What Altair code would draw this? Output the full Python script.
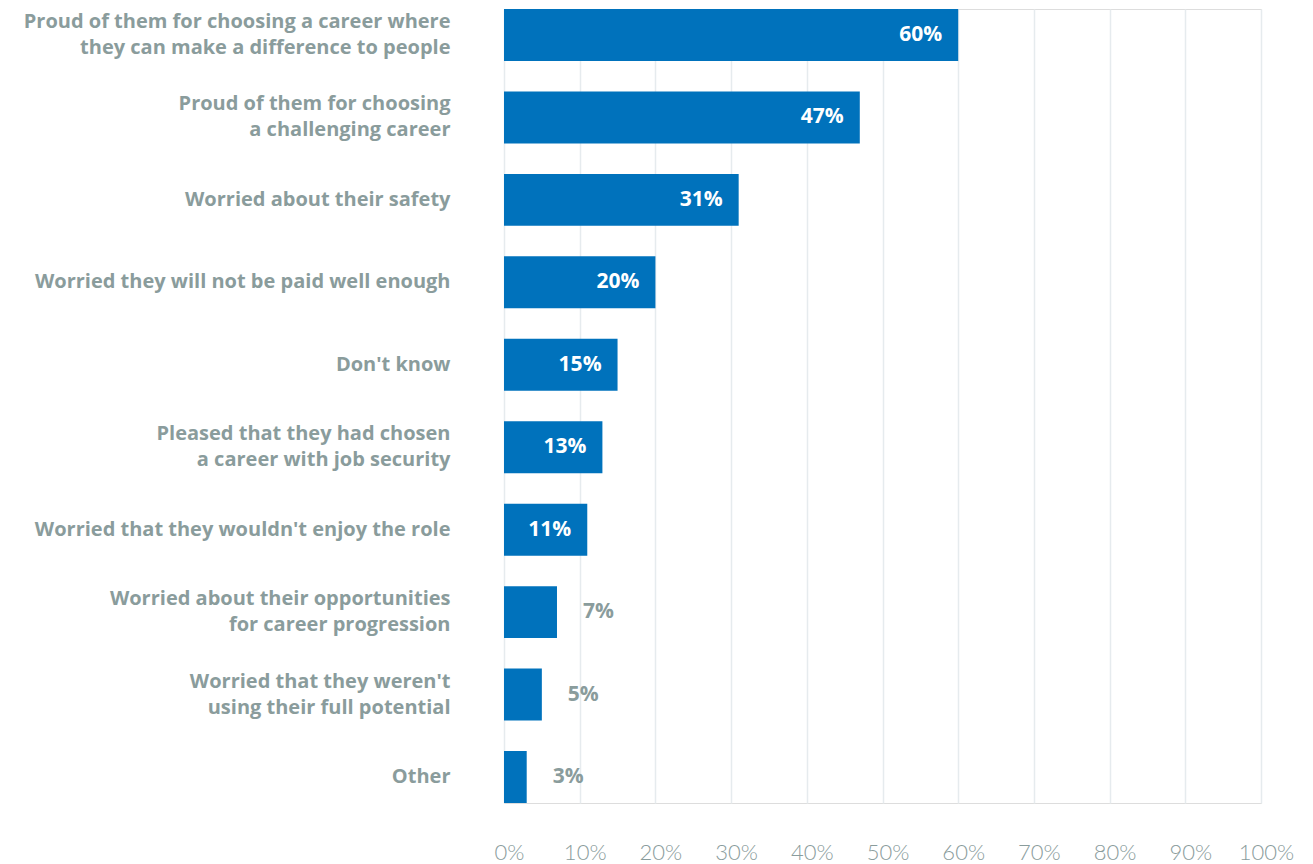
import altair as alt
import pandas as pd

categories = [
    "Proud of them for choosing a career where|they can make a difference to people",
    "Proud of them for choosing|a challenging career",
    "Worried about their safety",
    "Worried they will not be paid well enough",
    "Don't know",
    "Pleased that they had chosen|a career with job security",
    "Worried that they wouldn't enjoy the role",
    "Worried about their opportunities|for career progression",
    "Worried that they weren't|using their full potential",
    "Other",
]
values = [0.60, 0.47, 0.31, 0.20, 0.15, 0.13, 0.11, 0.07, 0.05, 0.03]
value_labels = ["60%", "47%", "31%", "20%", "15%", "13%", "11%", "7%", "5%", "3%"]

df = pd.DataFrame({"cat": categories, "value": values, "label": value_labels})

BLUE = "#0072bc"
GRAY = "#8a9c9c"
FONT = "Open Sans"

y = alt.Y(
    "cat:N",
    sort=categories,
    scale=alt.Scale(paddingInner=0.37, paddingOuter=0.0),
    axis=alt.Axis(
        title=None,
        labelExpr="split(datum.label, '|')",
        labelFontSize=20,
        labelFont=FONT,
        labelFontWeight="bold",
        labelColor=GRAY,
        labelPadding=54,
        labelLineHeight=26,
        labelLimit=600,
        labelOffset={"condition": {"test": "indexof(datum.value, '|') >= 0", "value": -13}, "value": 0},
        ticks=False,
        domain=False,
        grid=False,
    ),
)

x = alt.X(
    "value:Q",
    scale=alt.Scale(domain=[0, 1], nice=False),
    axis=alt.Axis(
        title=None,
        format=".0%",
        values=[i / 10 for i in range(11)],
        labelFontSize=22,
        labelFont="Lato",
        labelFontWeight=300,
        labelColor=GRAY,
        labelPadding=39,
        labelFlush=False,
        labelOffset=5,
        ticks=False,
        domain=False,
        grid=True,
        gridColor="#e6ebee",
        gridWidth=1.5,
    ),
)

base = alt.Chart(df)

bars = base.mark_bar(color=BLUE).encode(x=x, y=y)

inside = base.transform_filter("datum.value >= 0.1").mark_text(
    align="right", baseline="middle", dx=-16, font=FONT, fontWeight="bold",
    fontSize=21, color="white"
).encode(x="value:Q", y=alt.Y("cat:N", sort=categories), text="label:N")

outside = base.transform_filter("datum.value < 0.1").mark_text(
    align="left", baseline="middle", dx=26, font=FONT, fontWeight="bold",
    fontSize=21, color=GRAY
).encode(x="value:Q", y=alt.Y("cat:N", sort=categories), text="label:N")

chart = (
    alt.layer(bars, inside, outside)
    .properties(
        width=757,
        height=794,
        autosize=alt.AutoSizeParams(type="none"),
        padding={"left": 504, "top": 9, "right": 52, "bottom": 61},
    )
    .configure_view(strokeWidth=0, stroke="transparent")
    .configure(background="white")
)

chart.save("out.html", embed_options={"renderer": "svg", "actions": False})
